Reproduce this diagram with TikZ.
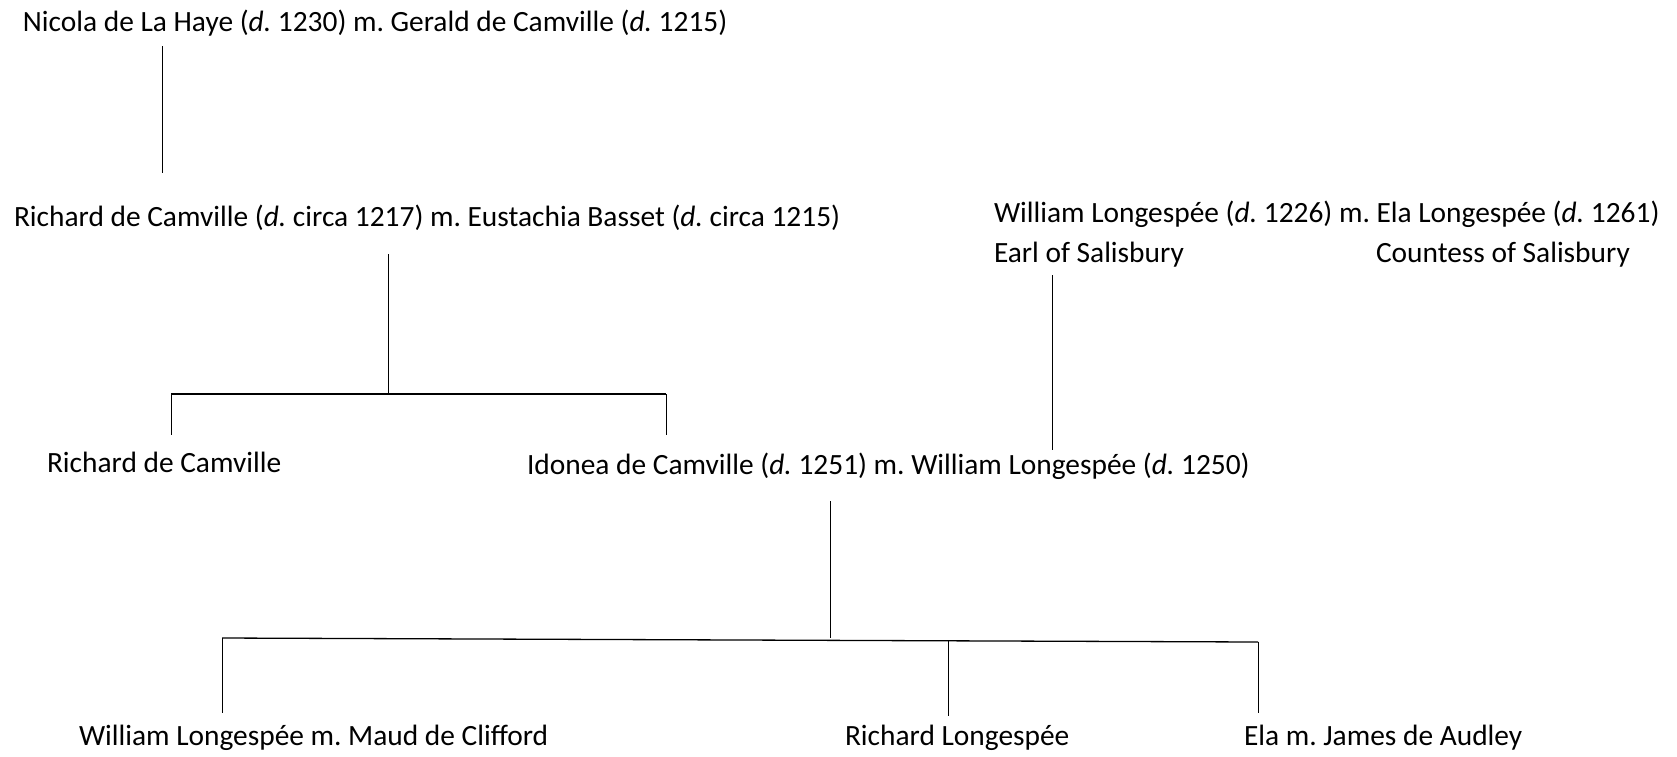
\documentclass[tikz,border=0pt]{standalone}
\usepackage{fontspec}
\setmainfont{Carlito}
\frenchspacing
\begin{document}
\begin{tikzpicture}[x=1pt,y=-1pt,
  person/.style={anchor=base west,inner sep=0pt,outer sep=0pt,font=\fontsize{29.4}{35}\selectfont\frenchspacing},
  link/.style={draw=black,line width=1pt},
  bar/.style={draw=black,line width=1.3pt}]
\useasboundingbox[fill=white] (0,0) rectangle (1677,756);
% people
\node[person] (nicola) at (23,31) {Nicola de La Haye (\textit{d.} 1230) m. Gerald de Camville (\textit{d.} 1215)};
\node[person] (richard) at (14,226) {Richard de Camville (\textit{d.} circa 1217) m. Eustachia Basset (\textit{d.} circa 1215)};
\node[person] (wl) at (994,222) {William Longespée (\textit{d.} 1226) m. Ela Longespée (\textit{d.} 1261)};
\node[person] (earl) at (994,262) {Earl of Salisbury};
\node[person] (countess) at (1376,262) {Countess of Salisbury};
\node[person] (richardjr) at (47,472) {Richard de Camville};
\node[person] (idonea) at (527,474) {Idonea de Camville (\textit{d.} 1251) m. William Longespée (\textit{d.} 1250)};
\node[person] (william) at (79,745) {William Longespée m. Maud de Clifford};
\node[person] (richardl) at (845,745) {Richard Longespée};
\node[person] (ela) at (1244,745) {Ela m. James de Audley};
% connector points
\coordinate (n1) at (162,46);   \coordinate (n2) at (162,173);
\coordinate (r1) at (388,254);  \coordinate (r2) at (388,393);
\coordinate (b1l) at (171,394); \coordinate (b1r) at (666,394);
\coordinate (c1) at (171,435);  \coordinate (c2) at (666,435);
\coordinate (e1) at (1052,275); \coordinate (e2) at (1052,450);
\coordinate (i1) at (830,501);  \coordinate (i2) at (830,638);
\coordinate (b2l) at (222,638); \coordinate (b2m) at (948,641); \coordinate (b2r) at (1258,642);
\coordinate (d1) at (222,713);  \coordinate (d2) at (948,716);  \coordinate (d3) at (1258,713);
% connectors
\draw[link] (n1) -- (n2);
\draw[link] (r1) -- (r2);
\draw[bar] (b1l) -- (b1r);
\draw[link] (b1l) -- (c1);
\draw[link] (b1r) -- (c2);
\draw[link] (e1) -- (e2);
\draw[link] (i1) -- (i2);
\draw[bar] (b2l) -- (b2r);
\draw[link] (b2l) -- (d1);
\draw[link] (b2m) -- (d2);
\draw[link] (b2r) -- (d3);
\end{tikzpicture}
\end{document}
